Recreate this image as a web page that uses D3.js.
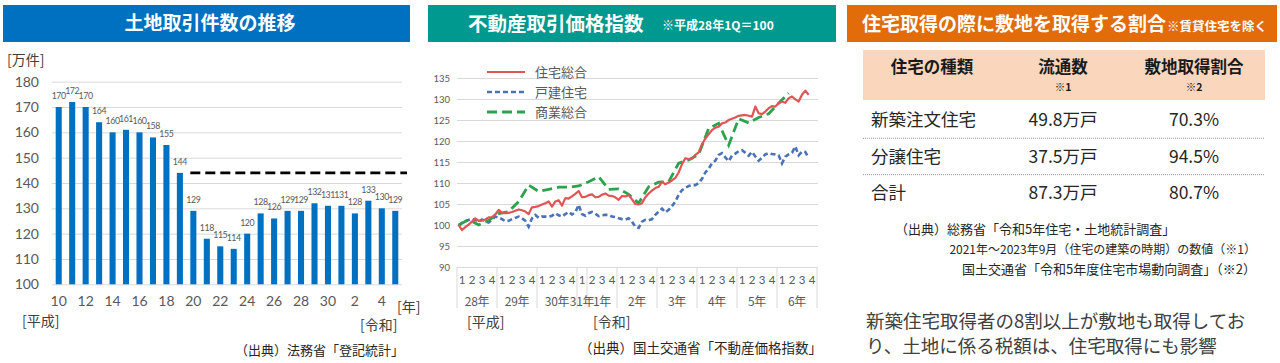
<!DOCTYPE html>
<html>
<head>
<meta charset="utf-8">
<script src="https://cdn.jsdelivr.net/npm/d3@7"></script>
<style>
  body { margin: 0; background: #fff; }
  svg { display: block; font-family: "Noto Sans CJK JP", "Noto Sans", sans-serif; }
</style>
</head>
<body>
<svg id="chart" width="1280" height="363"></svg>
<script>
// ---- 土地取引件数 (万件) 平成10年〜令和5年
const landYears = ["H10","H11","H12","H13","H14","H15","H16","H17","H18","H19","H20","H21","H22",
  "H23","H24","H25","H26","H27","H28","H29","H30","R1","R2","R3","R4","R5"];
const landTickLabels = ["10","","12","","14","","16","","18","","20","","22","",
  "24","","26","","28","","30","","2","","4",""];
const landCounts = [170,172,170,164,160,161,160,158,155,144,129,118,115,114,120,128,126,129,129,132,131,131,128,133,130,129];
const landTicks = [100,110,120,130,140,150,160,170,180];
const landReference = 144;

// ---- 不動産取引価格指数 (平成28年1Q=100)
const priceQuarterLabels = ["1","2","3","4","1","2","3","4","1","2","3","4","1","2","3","4",
  "1","2","3","4","1","2","3","4","1","2","3","4","1","2","3","4","1","2","3","4"];
const priceYearLabels = ["28年","29年","30年","31年","1年","2年","3年","4年","5年","6年"];
const priceYearQuarters = [4,4,4,1,3,4,4,4,4,4];
const priceTicks = [90,95,100,105,110,115,120,125,130,135];
// monthly, from 平成28年1月
const housingTotal = [
  100.0, 98.8, 99.5,100.1,100.8,101.6,101.0,101.1,101.3,101.8,101.9,102.5,
  103.6,102.9,102.8,102.9,103.1,103.4,103.7,103.5,103.2,102.6,104.2,104.3,
  104.5,104.9,105.2,105.6,104.4,105.6,105.9,104.6,106.4,106.3,106.8,107.4,
  108.1,106.6,106.7,107.1,107.3,106.6,106.7,107.2,107.5,107.0,106.9,106.6,
  106.0,106.9,106.8,107.1,106.1,105.0,104.9,105.2,106.6,107.5,108.2,108.8,
  109.1,110.3,109.7,110.1,110.6,111.2,112.5,114.5,115.9,115.7,115.8,116.7,
  117.3,119.2,120.6,121.6,122.6,123.2,123.4,124.2,124.4,125.0,125.3,125.6,
  126.0,126.1,126.2,126.0,125.8,128.2,126.6,126.4,127.0,127.8,128.3,128.2,
  129.0,129.4,129.1,130.2,130.6,129.9,129.4,131.0,132.0,131.0];
const detachedHouses = [
   99.8,100.5,100.9,101.2,101.5,101.2,100.8,101.3,100.8,100.6,101.3,102.0,
  101.8,101.4,100.9,101.0,101.4,101.7,102.0,101.6,101.0, 99.6,101.6,102.4,
  101.7,102.0,102.0,102.0,102.2,102.8,102.3,102.0,102.6,103.1,102.5,103.0,
  104.8,102.6,102.2,102.8,103.1,102.7,102.1,102.3,102.4,102.4,102.0,101.9,
  101.6,101.4,101.3,101.6,100.8, 99.6, 99.3,100.8,101.2,101.1,101.4,102.4,
  103.2,103.9,103.0,103.6,104.5,105.6,107.2,108.3,108.8,109.3,109.5,109.5,
  110.0,111.0,112.5,113.4,114.7,115.3,116.7,117.1,116.1,115.2,116.5,117.0,
  117.6,117.8,117.2,116.5,117.4,116.3,115.3,116.0,116.8,117.1,116.9,116.8,
  116.6,114.7,116.3,116.8,117.2,118.7,116.6,117.5,117.4,115.9];
// quarterly, from 平成28年1Q
const commercialTotal = [
  100.0,101.3,100.0,101.1,102.7,103.2,105.6,109.5,108.0,108.5,109.0,109.0,
  109.3,110.3,111.5,108.5,108.6,107.3,105.2,109.1,110.2,110.3,114.7,115.5,
  116.8,123.0,124.2,119.0,125.3,124.3,125.6,126.5,129.0,131.4];
const priceSeries = ["住宅総合","戸建住宅","商業総合"];

// ---- 住宅取得の際に敷地を取得する割合
const tableHeaders = ["住宅の種類","流通数","敷地取得割合"];
const tableNotes = ["","※1","※2"];
const tableRows = [
  ["新築注文住宅","49.8万戸","70.3%"],
  ["分譲住宅","37.5万戸","94.5%"],
  ["合計","87.3万戸","80.7%"]
];

const svg = d3.select("#chart");
const numFont = "Lato, 'Noto Sans', sans-serif";
const grey = "#595959";

function banner(x, w, color) {
  svg.append("rect").attr("x", x).attr("y", 5).attr("width", w).attr("height", 37).attr("fill", color);
}

// ================= 左: 土地取引件数の推移 =================
banner(3, 407, "#0070C0");
svg.append("text").attr("x", 210).attr("y", 30).attr("text-anchor", "middle")
  .attr("fill", "#fff").style("font-size", "19px").style("font-weight", "bold")
  .text("土地取引件数の推移");

var yL = d3.scaleLinear().domain([100, 180]).range([284.3, 81.7]);
var xL = d3.scaleBand().domain(d3.range(landCounts.length)).range([52, 402])
  .paddingInner(0.55).paddingOuter(0.275);

svg.append("g")
  .attr("transform", "translate(52,0)")
  .call(d3.axisLeft(yL).tickValues(landTicks).tickSize(-350).tickPadding(13))
  .call(g => g.select(".domain").remove())
  .call(g => g.selectAll("line").attr("stroke", "#d9d9d9"))
  .call(g => g.selectAll("text").attr("fill", grey).style("font-family", numFont).style("font-size", "14px"));

svg.append("g")
  .attr("transform", "translate(0,284.3)")
  .call(d3.axisBottom(xL).tickSize(0).tickPadding(12).tickFormat(i => landTickLabels[i]))
  .call(g => g.select(".domain").remove())
  .call(g => g.selectAll("text").attr("fill", grey).style("font-family", numFont).style("font-size", "14px"));

svg.append("g").selectAll("rect")
  .data(landCounts).join("rect")
  .attr("x", (d, i) => xL(i))
  .attr("y", d => yL(d))
  .attr("width", xL.bandwidth())
  .attr("height", d => yL(100) - yL(d))
  .attr("fill", "#0070C0");

svg.append("g").selectAll("text")
  .data(landCounts).join("text")
  .attr("x", (d, i) => xL(i) + xL.bandwidth() / 2)
  .attr("y", d => yL(d) - 8)
  .attr("text-anchor", "middle")
  .attr("fill", grey)
  .style("font-family", numFont).style("font-size", "8.8px").style("letter-spacing", "-0.4px")
  .text(d => d);

svg.append("line")
  .attr("x1", xL(10)).attr("x2", 407)
  .attr("y1", yL(landReference)).attr("y2", yL(landReference))
  .attr("stroke", "#000").attr("stroke-width", 2.7).attr("stroke-dasharray", "10,5");

svg.append("text").attr("x", 7).attr("y", 65).attr("fill", "#404040").style("font-size", "14px").text("[万件]");
svg.append("text").attr("x", 397).attr("y", 312).attr("fill", "#404040").style("font-size", "14px").text("[年]");
svg.append("text").attr("x", 22).attr("y", 326).attr("fill", "#404040").style("font-size", "14px").text("[平成]");
svg.append("text").attr("x", 360).attr("y", 330).attr("fill", "#404040").style("font-size", "14px").text("[令和]");
svg.append("text").attr("x", 404).attr("y", 355).attr("text-anchor", "end").attr("fill", "#262626")
  .style("font-size", "13px").text("（出典）法務省「登記統計」");

// ================= 中: 不動産取引価格指数 =================
banner(428, 408, "#00998F");
svg.append("text").attr("x", 468).attr("y", 31).attr("fill", "#fff")
  .style("font-size", "19.5px").style("font-weight", "bold").text("不動産取引価格指数");
svg.append("text").attr("x", 662).attr("y", 30).attr("fill", "#fff")
  .style("font-size", "12px").style("font-weight", "bold").text("※平成28年1Q＝100");

var yM = d3.scaleLinear().domain([90, 135]).range([267, 78]);
var xQ = d3.scaleBand().domain(d3.range(priceQuarterLabels.length)).range([457, 817]);
var xMonth = d3.scaleLinear().domain([-0.5, priceQuarterLabels.length * 3 - 0.5]).range([457, 817]);

svg.append("g")
  .attr("transform", "translate(457,0)")
  .call(d3.axisLeft(yM).tickValues(priceTicks).tickSize(-361).tickPadding(7))
  .call(g => g.select(".domain").remove())
  .call(g => g.selectAll("line").attr("stroke", "#d9d9d9"))
  .call(g => g.selectAll("text").attr("fill", grey).style("font-family", numFont).style("font-size", "9.5px"));

svg.append("g")
  .attr("transform", "translate(0,267)")
  .call(d3.axisBottom(xQ).tickSize(0).tickPadding(9).tickFormat(i => priceQuarterLabels[i]))
  .call(g => g.select(".domain").remove())
  .call(g => g.selectAll("text").attr("fill", grey).style("font-family", numFont).style("font-size", "11.5px"));

// 年ラベルと区切り線
var yearStarts = d3.cumsum([0].concat(priceYearQuarters.slice(0, -1)));
var boundaries = Array.from(yearStarts).map(s => xQ(s)).concat([xQ.range()[1]]);
svg.append("g").selectAll("line")
  .data(boundaries).join("line")
  .attr("x1", d => d).attr("x2", d => d)
  .attr("y1", 267).attr("y2", 308)
  .attr("stroke", "#d9d9d9");
svg.append("g").selectAll("text")
  .data(priceYearLabels).join("text")
  .attr("x", (d, i) => xQ(yearStarts[i]) + xQ.step() * priceYearQuarters[i] / 2)
  .attr("y", 306)
  .attr("text-anchor", "middle")
  .attr("fill", grey)
  .style("font-size", "12px").style("letter-spacing", "-0.3px")
  .text(d => d);

var lineMonth = d3.line().x((d, i) => xMonth(i)).y(d => yM(d));
var lineQuarter = d3.line().x((d, i) => xMonth(i * 3)).y(d => yM(d));

const styles = [
  { color: "#E15454", width: 2.2, dash: null },
  { color: "#4A72B8", width: 2.6, dash: "5,3" },
  { color: "#2BA24C", width: 2.8, dash: "10,5" }
];

svg.append("path").datum(detachedHouses)
  .attr("fill", "none").attr("stroke", styles[1].color).attr("stroke-width", styles[1].width)
  .attr("stroke-dasharray", styles[1].dash).attr("d", lineMonth);
svg.append("path").datum(commercialTotal)
  .attr("fill", "none").attr("stroke", styles[2].color).attr("stroke-width", styles[2].width)
  .attr("stroke-dasharray", styles[2].dash).attr("d", lineQuarter);
svg.append("path").datum(housingTotal)
  .attr("fill", "none").attr("stroke", styles[0].color).attr("stroke-width", styles[0].width)
  .attr("stroke-linejoin", "round").attr("d", lineMonth);

// 凡例
var legend = svg.append("g").selectAll("g")
  .data(priceSeries).join("g")
  .attr("transform", (d, i) => "translate(487," + (72 + i * 20) + ")");
legend.append("line")
  .attr("x1", 0).attr("x2", 38)
  .attr("stroke", (d, i) => styles[i].color)
  .attr("stroke-width", (d, i) => styles[i].width)
  .attr("stroke-dasharray", (d, i) => styles[i].dash);
legend.append("text")
  .attr("x", 48).attr("dy", "0.35em")
  .attr("fill", grey).style("font-size", "13px")
  .text(d => d);

svg.append("text").attr("x", 467).attr("y", 327).attr("fill", "#404040").style("font-size", "14px").text("[平成]");
svg.append("text").attr("x", 593).attr("y", 327).attr("fill", "#404040").style("font-size", "14px").text("[令和]");
svg.append("text").attr("x", 822).attr("y", 353).attr("text-anchor", "end").attr("fill", "#262626")
  .style("font-size", "13.5px").text("（出典）国土交通省「不動産価格指数」");

// ================= 右: 住宅取得の際に敷地を取得する割合 =================
banner(847, 430, "#E26B0A");
svg.append("text").attr("x", 862).attr("y", 31).attr("fill", "#fff")
  .style("font-size", "19px").style("font-weight", "bold").text("住宅取得の際に敷地を取得する割合");
svg.append("text").attr("x", 1167).attr("y", 31).attr("fill", "#fff")
  .style("font-size", "12.5px").style("font-weight", "bold").text("※賃貸住宅を除く");

var colX = [932, 1063, 1194];
svg.append("rect").attr("x", 863).attr("y", 50).attr("width", 402).attr("height", 50).attr("fill", "#FAD6BC");
svg.append("g").selectAll("text")
  .data(tableHeaders).join("text")
  .attr("x", (d, i) => colX[i]).attr("y", 73)
  .attr("text-anchor", "middle").attr("fill", "#1a1a1a")
  .style("font-size", "16.5px").style("font-weight", "bold")
  .text(d => d);
svg.append("g").selectAll("text")
  .data(tableNotes).join("text")
  .attr("x", (d, i) => colX[i]).attr("y", 91)
  .attr("text-anchor", "middle").attr("fill", "#1a1a1a")
  .style("font-size", "10.5px").style("font-weight", "bold")
  .text(d => d);

var rowY = d3.scaleBand().domain(d3.range(tableRows.length)).range([102, 211]);
var rows = svg.append("g").selectAll("g")
  .data(tableRows).join("g")
  .attr("transform", (d, i) => "translate(0," + (rowY(i) + rowY.bandwidth() / 2) + ")");
rows.selectAll("text")
  .data(d => d).join("text")
  .attr("x", (d, j) => j === 0 ? 871 : colX[j])
  .attr("text-anchor", (d, j) => j === 0 ? "start" : "middle")
  .attr("dy", "0.36em")
  .attr("fill", "#262626")
  .style("font-size", "17.5px")
  .text(d => d);
svg.append("g").selectAll("line")
  .data(d3.range(1, tableRows.length)).join("line")
  .attr("x1", 863).attr("x2", 1265)
  .attr("y1", i => rowY(i)).attr("y2", i => rowY(i))
  .attr("stroke", "#999").attr("stroke-dasharray", "1,1");

svg.append("text").attr("x", 895).attr("y", 234).attr("fill", "#262626")
  .style("font-size", "13px").text("（出典）総務省「令和5年住宅・土地統計調査」");
svg.append("text").attr("x", 1256).attr("y", 254).attr("text-anchor", "end").attr("fill", "#262626")
  .style("font-size", "12px").text("2021年～2023年9月（住宅の建築の時期）の数値（※1）");
svg.append("text").attr("x", 1256).attr("y", 274).attr("text-anchor", "end").attr("fill", "#262626")
  .style("font-size", "13px").text("国土交通省「令和5年度住宅市場動向調査」（※2）");

svg.append("text").attr("x", 866).attr("y", 328).attr("fill", "#404040")
  .style("font-size", "18.5px").text("新築住宅取得者の8割以上が敷地も取得してお");
svg.append("text").attr("x", 866).attr("y", 353).attr("fill", "#404040")
  .style("font-size", "18.5px").text("り、土地に係る税額は、住宅取得にも影響");
</script>
</body>
</html>
